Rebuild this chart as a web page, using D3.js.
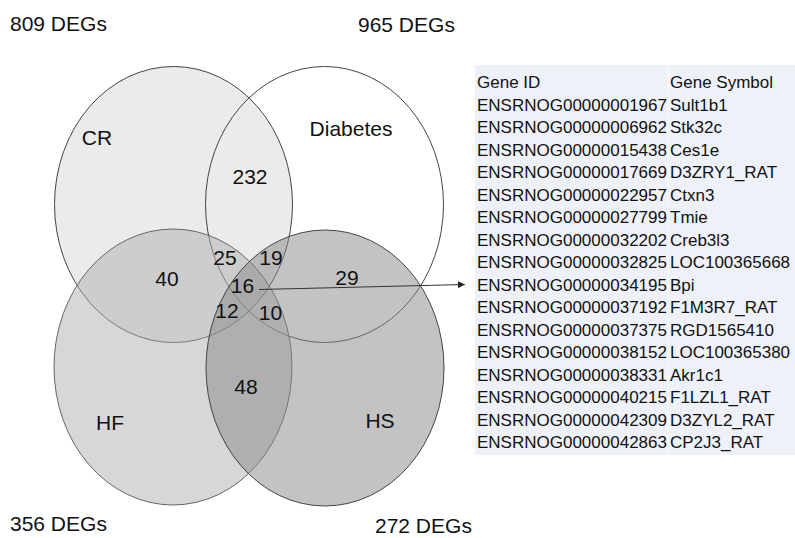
<!DOCTYPE html>
<html>
<head>
<meta charset="utf-8">
<script src="https://cdn.jsdelivr.net/npm/d3@7"></script>
<style>
  html, body { margin: 0; padding: 0; background: #fff; }
  svg { display: block; font-family: "Liberation Sans", Arial, sans-serif; }
</style>
</head>
<body>
<svg id="svg" width="795" height="538"></svg>
<script>
// data
var setNames = ["CR", "Diabetes", "HF", "HS"];
var setSizes = [809, 965, 356, 272];
var regionNames = ["CR&D", "CR&HF", "CR&D&HF", "CR&D&HS", "all", "D&HS", "CR&HF&HS", "D&HF&HS", "HF&HS"];
var regionCounts = [232, 40, 25, 19, 16, 29, 12, 10, 48];
var tableHeader = ["Gene ID", "Gene Symbol"];
var geneIds = ["ENSRNOG00000001967", "ENSRNOG00000006962", "ENSRNOG00000015438", "ENSRNOG00000017669",
	"ENSRNOG00000022957", "ENSRNOG00000027799", "ENSRNOG00000032202", "ENSRNOG00000032825",
	"ENSRNOG00000034195", "ENSRNOG00000037192", "ENSRNOG00000037375", "ENSRNOG00000038152",
	"ENSRNOG00000038331", "ENSRNOG00000040215", "ENSRNOG00000042309", "ENSRNOG00000042863"];
var geneSymbols = ["Sult1b1", "Stk32c", "Ces1e", "D3ZRY1_RAT", "Ctxn3", "Tmie", "Creb3l3", "LOC100365668",
	"Bpi", "F1M3R7_RAT", "RGD1565410", "LOC100365380", "Akr1c1", "F1LZL1_RAT", "D3ZYL2_RAT", "CP2J3_RAT"];
var arrowTarget = "Bpi";

// layout (pixels)
var ellipse = {rx: 119, ry: 138};
var setCenters = [[173.5, 204.5], [324.5, 204.5], [173, 367], [325, 368]];
var setFills = ["#d8d8d8", "none", "#b0b0b0", "#888888"];
var setStrokes = ["#444", "#444", "#666", "#444"];
var setLabelPos = [[97, 145], [351, 136], [110, 430], [380, 428]];
var sizeLabelPos = [[10, 31], [358, 32], [10, 531], [375, 533]];
var regionPos = [[250, 184], [167, 286], [225, 265], [271, 265], [242.5, 293], [347, 285], [227, 318], [270.5, 320], [246, 394]];

var svg = d3.select("#svg");
var fs = 21;

// venn ellipses
var venn = svg.append("g").attr("id", "venn");
venn.selectAll("ellipse").data(setNames).enter().append("ellipse")
	.attr("cx", function(d, i){ return setCenters[i][0]; })
	.attr("cy", function(d, i){ return setCenters[i][1]; })
	.attr("rx", ellipse.rx).attr("ry", ellipse.ry)
	.style("fill", function(d, i){ return setFills[i]; })
	.style("fill-opacity", 0.5)
	.style("stroke", function(d, i){ return setStrokes[i]; })
	.style("stroke-width", 1);

venn.selectAll("text.set").data(setNames).enter().append("text").attr("class", "set")
	.attr("x", function(d, i){ return setLabelPos[i][0]; })
	.attr("y", function(d, i){ return setLabelPos[i][1]; })
	.attr("text-anchor", "middle").style("font-size", fs + "px").style("fill", "#111")
	.text(function(d){ return d; });

venn.selectAll("text.count").data(regionCounts).enter().append("text").attr("class", "count")
	.attr("x", function(d, i){ return regionPos[i][0]; })
	.attr("y", function(d, i){ return regionPos[i][1]; })
	.attr("text-anchor", "middle").style("font-size", fs + "px").style("fill", "#111")
	.text(function(d){ return d; });

svg.selectAll("text.size").data(setSizes).enter().append("text").attr("class", "size")
	.attr("x", function(d, i){ return sizeLabelPos[i][0]; })
	.attr("y", function(d, i){ return sizeLabelPos[i][1]; })
	.style("font-size", fs + "px").style("fill", "#111")
	.text(function(d){ return d + " DEGs"; });

// table
var table = {x: 475, top: 65, bottom: 455, right: 795, col2: 670, textX: 477};
var rowY = d3.scaleLinear().domain([0, geneIds.length]).range([88, 88 + 22.5 * geneIds.length]);

var tg = svg.append("g").attr("id", "table");
tg.append("rect").attr("x", table.x).attr("y", table.top)
	.attr("width", table.right - table.x).attr("height", table.bottom - table.top)
	.style("fill", "#eef2f8");
tg.append("line").attr("x1", table.col2 - 2).attr("x2", table.col2 - 2)
	.attr("y1", table.top).attr("y2", table.bottom)
	.style("stroke", "#fafcff").style("stroke-width", 1);

tg.selectAll("text.head").data(tableHeader).enter().append("text").attr("class", "head")
	.attr("x", function(d, i){ return i === 0 ? table.textX : table.col2; })
	.attr("y", rowY(0)).style("font-size", "17px").style("fill", "#111")
	.text(function(d){ return d; });

tg.selectAll("text.gid").data(geneIds).enter().append("text").attr("class", "gid")
	.attr("x", table.textX).attr("y", function(d, i){ return rowY(i + 1); })
	.style("font-size", "17px").style("fill", "#111")
	.text(function(d){ return d; });

tg.selectAll("text.sym").data(geneSymbols).enter().append("text").attr("class", "sym")
	.attr("x", table.col2).attr("y", function(d, i){ return rowY(i + 1); })
	.style("font-size", "17px").style("fill", "#111")
	.text(function(d){ return d; });

// arrow from the centre region to the matching row
var defs = svg.append("defs");
defs.append("marker").attr("id", "arrowhead").attr("viewBox", "0 0 10 10")
	.attr("refX", 10).attr("refY", 5).attr("markerWidth", 9).attr("markerHeight", 7)
	.attr("markerUnits", "userSpaceOnUse").attr("orient", "auto")
	.append("path").attr("d", "M0,0 L10,5 L0,10 Z").style("fill", "#222");

var target = geneSymbols.indexOf(arrowTarget);
svg.append("line")
	.attr("x1", 259).attr("y1", 289.5)
	.attr("x2", 465).attr("y2", rowY(target + 1) - 6)
	.style("stroke", "#333").style("stroke-width", 1)
	.attr("marker-end", "url(#arrowhead)");
</script>
</body>
</html>
